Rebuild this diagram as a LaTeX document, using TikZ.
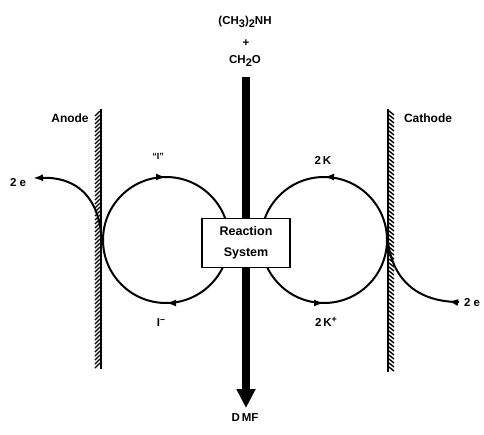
\documentclass[tikz,border=0pt]{standalone}
\usepackage{fontspec}
\setmainfont{Liberation Sans}
\usetikzlibrary{arrows.meta,decorations.markings}
\newcommand\lowsub[1]{\raisebox{-3.5pt}{\fontsize{11}{11}\selectfont\bfseries #1}}
\newcommand\highsup[1]{\raisebox{4.5pt}{\fontsize{9}{9}\selectfont\bfseries #1}}
\begin{document}
\begin{tikzpicture}[x=1pt,y=-1pt,
  lbl/.style={inner sep=0pt, font=\fontsize{12}{14}\selectfont\bfseries},
  small/.style={inner sep=0pt, font=\fontsize{11.5}{14}\selectfont\bfseries},
  tiny/.style={inner sep=0pt, font=\fontsize{9}{11}\selectfont\bfseries},
  electrode/.style={line width=2.8pt},
  hatch/.style={line width=1.4pt},
  loopline/.style={line width=2pt},
  midarrows/.style={postaction={decorate}, decoration={markings,
     mark=at position 0.25 with {\arrow{Latex[length=10pt,width=7pt]}},
     mark=at position 0.75 with {\arrow{Latex[length=10pt,width=7pt]}}}},
  startarrow/.style={postaction={decorate}, decoration={markings,
     mark=at position 11pt with {\arrow{Latex[length=10pt,width=7pt]}}}},
]
\useasboundingbox (0,0) rectangle (484,434);

% electrodes
\draw[electrode] (101,109) -- (101,369);
\foreach \y in {111,115,...,365} \draw[hatch] (100,\y) -- (95,\y+5);
\draw[electrode] (388,109) -- (388,372);
\foreach \y in {111,115,...,367} \draw[hatch] (389,\y) -- (394,\y+4);

\node[lbl] (anode) at (70,118) {Anode};
\node[lbl] (cathode) at (428,118) {Cathode};

% reactants and product
\node[small] (amine) at (245,22) {(CH\lowsub{3})\lowsub{2}NH};
\node[small] (plus) at (246,43) {+};
\node[small] (form) at (245,61) {CH\lowsub{2}O};
\node[small] (dmf) at (245,418) {D\,MF};
\coordinate (top) at (246,77);
\draw[line width=7.5pt, -{Triangle[length=19pt,width=18pt]}, shorten >=4pt] (top) -- (246,412);

% catalytic loops
\coordinate (lc) at (166,240);
\coordinate (rc) at (324,240);
\draw[loopline,midarrows] (lc) ++(-63pt,0) arc[start angle=180,end angle=-180,radius=63pt];
\draw[loopline,midarrows] (rc) ++(63pt,0) arc[start angle=0,end angle=360,radius=63pt];

% reaction system box
\node[draw, line width=1.5pt, fill=white, minimum width=88pt, minimum height=49pt,
      align=center, font=\fontsize{12.5}{21}\selectfont\bfseries] (rs) at (246,243) {Reaction\\System};

% loop labels
\node[tiny] (iq) at (158,156) {\char"201C I\char"201D};
\node[small] (im) at (161,323) {I\highsup{\char"2013}};
\node[small] (k) at (323,160) {2\,K};
\node[small] (kp) at (326,322) {2\,K\highsup{+}};

% electrons
\node[small] (el) at (18,183) {2 e};
\node[small] (er) at (472,303) {2 e};
\coordinate (la) at (101,232);
\coordinate (ra) at (388,242);
\draw[loopline, -{Latex[length=10pt,width=7pt]}] (la) .. controls (96,192) and (72,177) .. (33,178);
\draw[loopline, startarrow] (459,302) .. controls (420,302) and (393,282) .. (ra);
\end{tikzpicture}
\end{document}
